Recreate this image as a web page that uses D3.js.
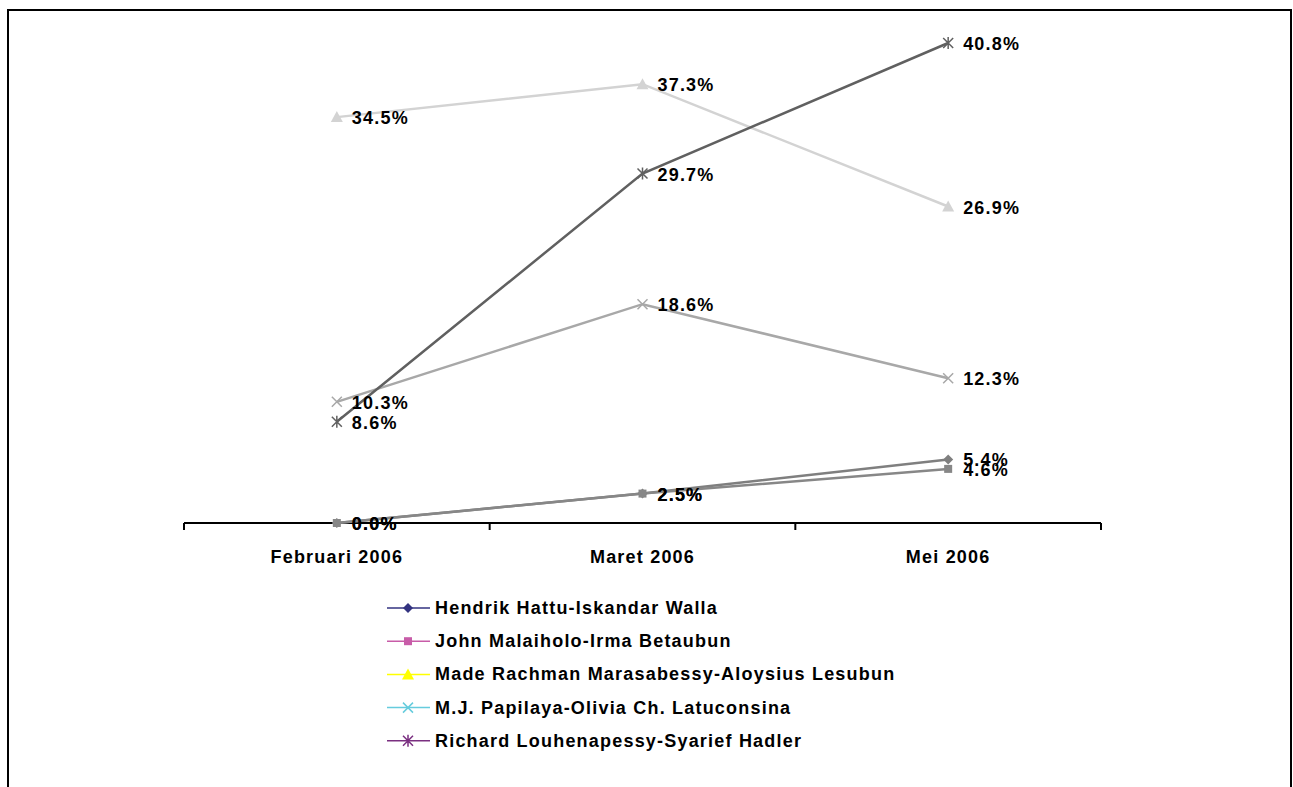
<!DOCTYPE html>
<html>
<head>
<meta charset="utf-8">
<script src="https://cdn.jsdelivr.net/npm/d3@7"></script>
<style>
  html, body { margin: 0; padding: 0; background: #fff; }
  svg { display: block; font-family: "Liberation Sans", Arial, sans-serif; }
</style>
</head>
<body>
<div class="svg-container"></div>
<script>
// Data
const categories = ['Februari 2006', 'Maret 2006', 'Mei 2006'];
const seriesNames = [
    'Hendrik Hattu-Iskandar Walla',
    'John Malaiholo-Irma Betaubun',
    'Made Rachman Marasabessy-Aloysius Lesubun',
    'M.J. Papilaya-Olivia Ch. Latuconsina',
    'Richard Louhenapessy-Syarief Hadler'
];
const hendrikValues = [0.0, 2.5, 5.4];
const johnValues = [0.0, 2.5, 4.6];
const madeValues = [34.5, 37.3, 26.9];
const papilayaValues = [10.3, 18.6, 12.3];
const richardValues = [8.6, 29.7, 40.8];

const chartManager = (() => {
    const SCREEN = { WIDTH: 1293, HEIGHT: 787 };

    // plot colours (greyscale) and legend colours differ in the original
    const plotColors = ['#7f7f7f', '#878787', '#d3d3d3', '#a8a8a8', '#606060'];
    const legendColors = ['#333380', '#c85ca8', '#ffff00', '#66ccdd', '#7a2f80'];
    const markers = ['diamond', 'square', 'triangle', 'x', 'star'];
    const FONT = { size: '18px', spacing: '1.2px' };

    const initSVG = () => d3.select('.svg-container').append('svg')
        .attr('width', SCREEN.WIDTH)
        .attr('height', SCREEN.HEIGHT);

    /**
     * Draw a marker of the given kind centred on (0,0)
     */
    const drawMarker = (g, kind, color, size) => {
        const s = size;
        if (kind === 'diamond') {
            g.append('path').attr('d', `M0,${-s}L${s},0L0,${s}L${-s},0Z`).attr('fill', color);
        } else if (kind === 'square') {
            g.append('rect').attr('x', -s).attr('y', -s).attr('width', 2 * s).attr('height', 2 * s).attr('fill', color);
        } else if (kind === 'triangle') {
            g.append('path').attr('d', `M0,${-s - 1}L${s + 1},${s}L${-s - 1},${s}Z`).attr('fill', color);
        } else if (kind === 'x') {
            g.append('path').attr('d', `M${-s},${-s}L${s},${s}M${-s},${s}L${s},${-s}`)
                .attr('stroke', color).attr('stroke-width', 1.5);
        } else {
            g.append('path').attr('d', `M${-s},${-s}L${s},${s}M${-s},${s}L${s},${-s}M0,${-s - 1}L0,${s + 1}`)
                .attr('stroke', color).attr('stroke-width', 1.5);
        }
    };

    const boldText = (sel) => sel
        .attr('font-size', FONT.size)
        .attr('font-weight', 'bold')
        .attr('letter-spacing', FONT.spacing)
        .attr('fill', '#000');

    const init = () => {
        const svg = initSVG();

        // outer frame
        svg.append('rect')
            .attr('x', 8).attr('y', 10).attr('width', 1283).attr('height', 790)
            .attr('fill', 'none').attr('stroke', '#000').attr('stroke-width', 2);

        const x = d3.scaleBand().domain(categories).range([184, 1101]);
        const y = d3.scaleLinear().domain([0, 40.8]).range([523, 43]);
        const cx = d => x(d) + x.bandwidth() / 2;

        // axis
        const axis = svg.append('g').attr('transform', `translate(0, ${y(0)})`);
        axis.append('line').attr('x1', 184).attr('x2', 1101)
            .attr('stroke', '#000').attr('stroke-width', 2);
        const tickXs = categories.map(c => x(c)).concat([x(categories[categories.length - 1]) + x.bandwidth()]);
        axis.selectAll('.tick').data(tickXs).enter().append('line')
            .attr('x1', d => d).attr('x2', d => d).attr('y1', 0).attr('y2', 7)
            .attr('stroke', '#000').attr('stroke-width', 2);
        axis.selectAll('.cat').data(categories).enter().append('text')
            .attr('x', d => cx(d)).attr('y', 40)
            .attr('text-anchor', 'middle')
            .call(boldText)
            .text(d => d);

        const allSeries = [hendrikValues, johnValues, madeValues, papilayaValues, richardValues];
        const line = d3.line().x((d, i) => cx(categories[i])).y(d => y(d));

        allSeries.forEach((vals, si) => {
            svg.append('path')
                .attr('d', line(vals))
                .attr('fill', 'none')
                .attr('stroke', plotColors[si])
                .attr('stroke-width', 2.5);
        });

        allSeries.forEach((vals, si) => {
            vals.forEach((v, i) => {
                const g = svg.append('g').attr('transform', `translate(${cx(categories[i])}, ${y(v)})`);
                drawMarker(g, markers[si], plotColors[si], markers[si] === 'square' ? 4 : 5);
            });
        });

        allSeries.forEach((vals) => {
            vals.forEach((v, i) => {
                svg.append('text')
                    .attr('x', cx(categories[i]) + 15)
                    .attr('y', y(v) + 7)
                    .call(boldText)
                    .text(v.toFixed(1) + '%');
            });
        });

        // legend
        const legend = svg.append('g').attr('transform', 'translate(387, 608)');
        seriesNames.forEach((name, si) => {
            const row = legend.append('g').attr('transform', `translate(0, ${si * 33.2})`);
            row.append('line').attr('x1', 0).attr('x2', 43)
                .attr('stroke', legendColors[si]).attr('stroke-width', 1.5);
            const m = row.append('g').attr('transform', 'translate(21, 0)');
            drawMarker(m, markers[si], legendColors[si], markers[si] === 'square' ? 4 : 5);
            row.append('text').attr('x', 48).attr('y', 6)
                .call(boldText)
                .text(name);
        });
    };

    return { init: init };
})();

chartManager.init();
</script>
</body>
</html>
